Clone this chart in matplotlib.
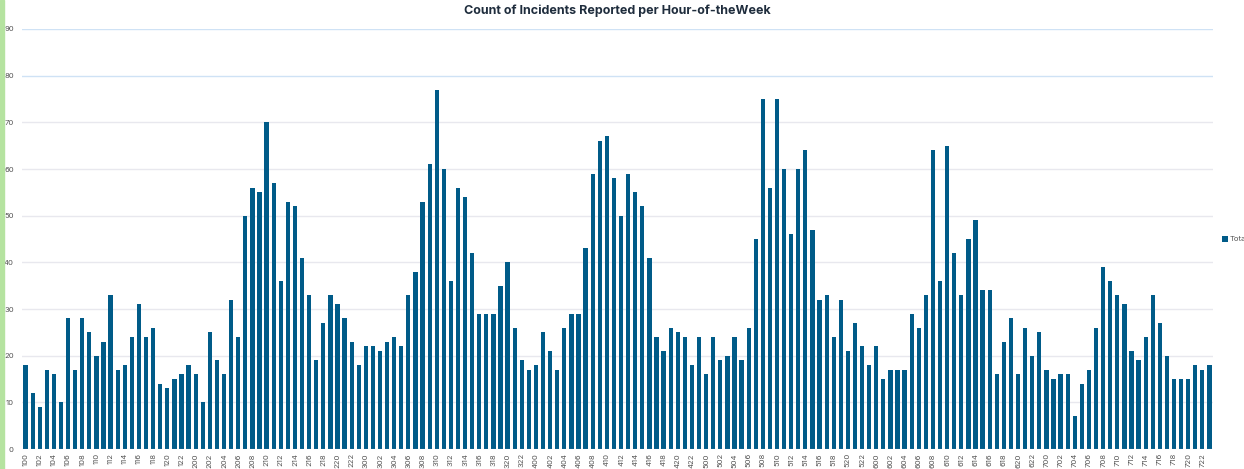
import matplotlib.pyplot as plt
from matplotlib.patches import Rectangle

# -------- DATA --------
days = [1, 2, 3, 4, 5, 6, 7]
hours = list(range(24))

day1 = [18, 12, 9, 17, 16, 10, 28, 17, 28, 25, 20, 23, 33, 17, 18, 24, 31, 24, 26, 14, 13, 15, 16, 18]
day2 = [16, 10, 25, 19, 16, 32, 24, 50, 56, 55, 70, 57, 36, 53, 52, 41, 33, 19, 27, 33, 31, 28, 23, 18]
day3 = [22, 22, 21, 23, 24, 22, 33, 38, 53, 61, 77, 60, 36, 56, 54, 42, 29, 29, 29, 35, 40, 26, 19, 17]
day4 = [18, 25, 21, 17, 26, 29, 29, 43, 59, 66, 67, 58, 50, 59, 55, 52, 41, 24, 21, 26, 25, 24, 18, 24]
day5 = [16, 24, 19, 20, 24, 19, 26, 45, 75, 56, 75, 60, 46, 60, 64, 47, 32, 33, 24, 32, 21, 27, 22, 18]
day6 = [22, 15, 17, 17, 17, 29, 26, 33, 64, 36, 65, 42, 33, 45, 49, 34, 34, 16, 23, 28, 16, 26, 20, 25]
day7 = [17, 15, 16, 16, 7, 14, 17, 26, 39, 36, 33, 31, 21, 19, 24, 33, 27, 20, 15, 15, 15, 18, 17, 18]

counts = day1 + day2 + day3 + day4 + day5 + day6 + day7
labels = [f"{d}{h:02d}" for d in days for h in hours]

# -------- CONFIG --------
BAR_COLOR = "#005b88"
TEXT_GRAY = "#555555"

plt.rcParams["font.family"] = ["Inter", "DejaVu Sans"]

fig = plt.figure(figsize=(12.44, 4.69), dpi=100)
ax = fig.add_axes([22 / 1244, 20 / 469, (1213 - 22) / 1244, (449 - 29) / 469])

x = list(range(len(counts)))
ax.bar(x, counts, width=0.6, color=BAR_COLOR, label="Total", zorder=3)

ax.set_xlim(-0.5, len(counts) - 0.5)
ax.set_ylim(0, 90)

# grid lines: top two are light blue, rest light gray
for v in range(10, 100, 10):
    c = "#cfe2f5" if v >= 80 else "#e8e8ee"
    ax.axhline(v, color=c, linewidth=1, zorder=0)
ax.axhline(0, color="#d9d9d9", linewidth=0.8, zorder=4)

ax.set_yticks(range(0, 100, 10))
ax.set_yticklabels([str(v) for v in range(0, 100, 10)], fontsize=5.5, color=TEXT_GRAY)
ax.set_xticks(x[::2])
ax.set_xticklabels(labels[::2], rotation=90, fontsize=5.5, color=TEXT_GRAY)
ax.tick_params(length=0, pad=3)
ax.tick_params(axis="y", pad=6)

for s in ax.spines.values():
    s.set_visible(False)

ax.set_title("Count of Incidents Reported per Hour-of-theWeek",
             fontsize=9, fontweight="bold", color="#1f2d3d", pad=11)

# legend sits at the right edge and is cut off like in the original
ax.legend(loc="center left", bbox_to_anchor=(1.002, 0.5), frameon=False,
          fontsize=5.5, handlelength=0.7, handleheight=0.9, handletextpad=0.2,
          labelcolor=TEXT_GRAY)

# green strip on the left edge
fig.patches.append(Rectangle((0, 0), 4 / 1244, 1, transform=fig.transFigure,
                             color="#b5e3a0", zorder=0))

fig.savefig("out.png", dpi=100)
